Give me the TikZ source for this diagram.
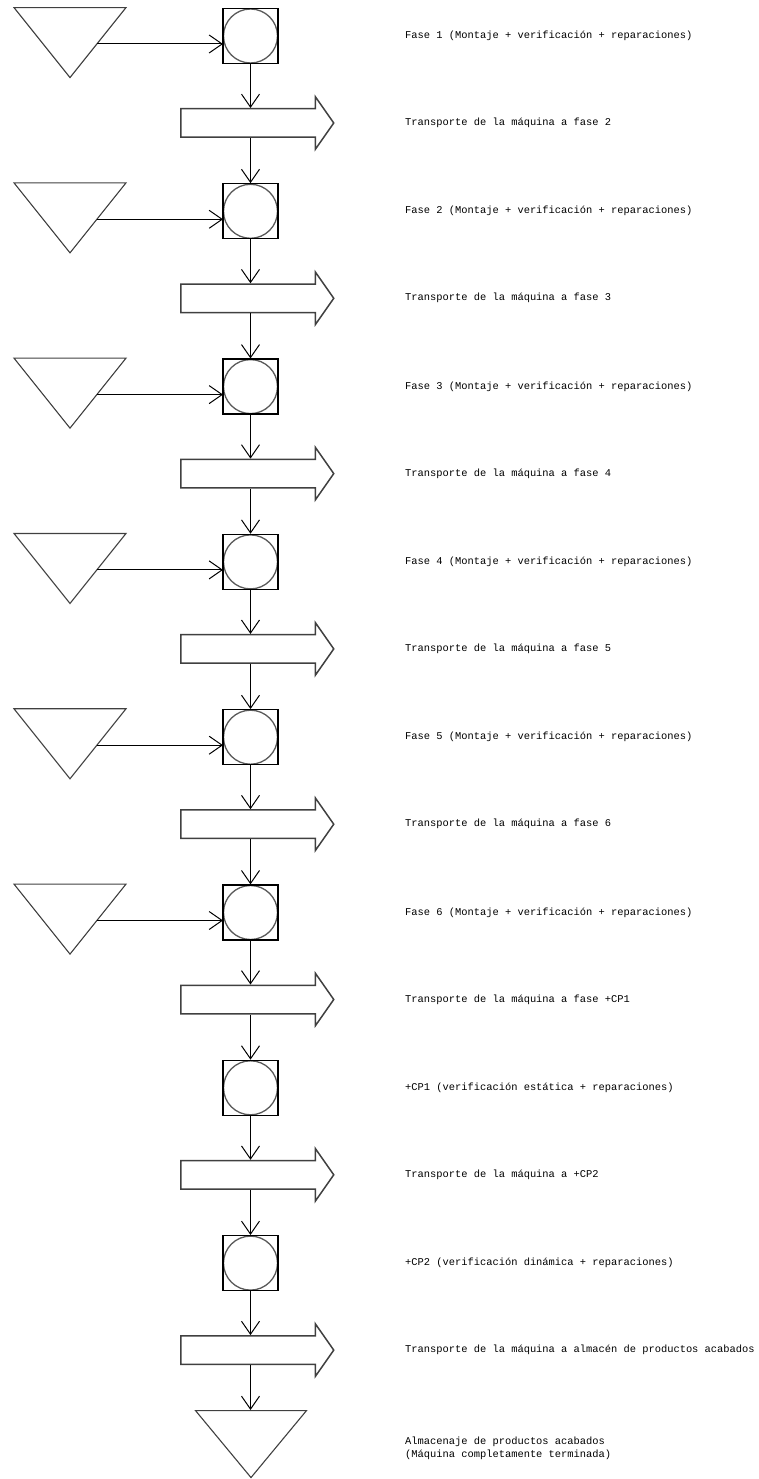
\documentclass[tikz,border=0pt]{standalone}
\usepackage{fontspec}
\setmonofont{Liberation Mono}
\usetikzlibrary{positioning,arrows.meta,shapes.geometric,shapes.arrows,calc}

\tikzset{
  station/.style={draw, line width=1.3pt, minimum size=55pt, inner sep=0pt,
    path picture={\draw[gray!70!black, line width=1.3pt] (path picture bounding box.center) circle (27pt);}},
  store/.style={draw=black!75, line width=1.1pt, isosceles triangle, isosceles triangle stretches,
    shape border rotate=270, minimum width=112pt, minimum height=70pt, inner sep=0pt},
  move/.style={draw=black!75, line width=1.5pt, single arrow, single arrow head extend=12pt,
    single arrow head indent=0pt, single arrow tip angle=110, minimum height=153pt,
    inner xsep=0pt, inner ysep=13.5pt},
  flow/.style={-{Straight Barb[length=13pt,width=18pt]}, line width=1pt},
  desc/.style={anchor=west, inner sep=0pt, align=left, font=\ttfamily\fontsize{10.4}{13}\selectfont}
}

\begin{document}
\begin{tikzpicture}[x=1pt, y=-1pt]
    \useasboundingbox (0,0) rectangle (759,1479);

    % Stations and transports
    \foreach \i in {1,...,8} {
        \pgfmathsetmacro\y{36+175.3*(\i-1)}
        \node[station] (s\i) at (250.5,\y) {};
        \node[move, anchor=tail] (a\i) at (180,\y+87) {};
    }

    % Stocks feeding each phase
    \foreach \i in {1,...,6} {
        \pgfmathsetmacro\y{36+175.3*(\i-1)}
        \node[store, anchor=apex] (t\i) at (70,\y+43) {};
        \coordinate (out\i) at (97,\y+8);
        \coordinate (in\i) at (223,\y+8);
        \draw[flow] (out\i) -- (in\i);
    }

    % Finished goods store
    \node[store, anchor=apex, minimum width=111pt, minimum height=67pt] (fin) at (251,1479) {};

    % Vertical flow
    \foreach \i in {1,...,8} {
        \draw[flow] (s\i.south) -- (s\i.south |- a\i.90);
    }
    \foreach \i in {1,...,7} {
        \pgfmathtruncatemacro\j{\i+1}
        \draw[flow] (s\i.south |- a\i.270) -- (s\j.north);
    }
    \draw[flow] (s8.south |- a8.270) -- (s8.south |- fin.north);

    % Texts
    \foreach \i in {1,...,6} {
        \node[desc] (f\i) at (405,36+175.3*\i-175.3) {Fase \i{} (Montaje + verificación + reparaciones)};
    }
    \foreach \i in {1,...,5} {
        \pgfmathtruncatemacro\j{\i+1}
        \node[desc] (m\i) at (405,123+175.3*\i-175.3) {Transporte de la máquina a fase \j};
    }
    \node[desc] (m6) at (405,999.5) {Transporte de la máquina a fase +CP1};
    \node[desc] (f7) at (405,1088) {+CP1 (verificación estática + reparaciones)};
    \node[desc] (m7) at (405,1175) {Transporte de la máquina a +CP2};
    \node[desc] (f8) at (405,1263) {+CP2 (verificación dinámica + reparaciones)};
    \node[desc] (m8) at (405,1350) {Transporte de la máquina a almacén de productos acabados};
    \node[desc] (fin text) at (405,1448) {Almacenaje de productos acabados\\(Máquina completamente terminada)};
\end{tikzpicture}
\end{document}
